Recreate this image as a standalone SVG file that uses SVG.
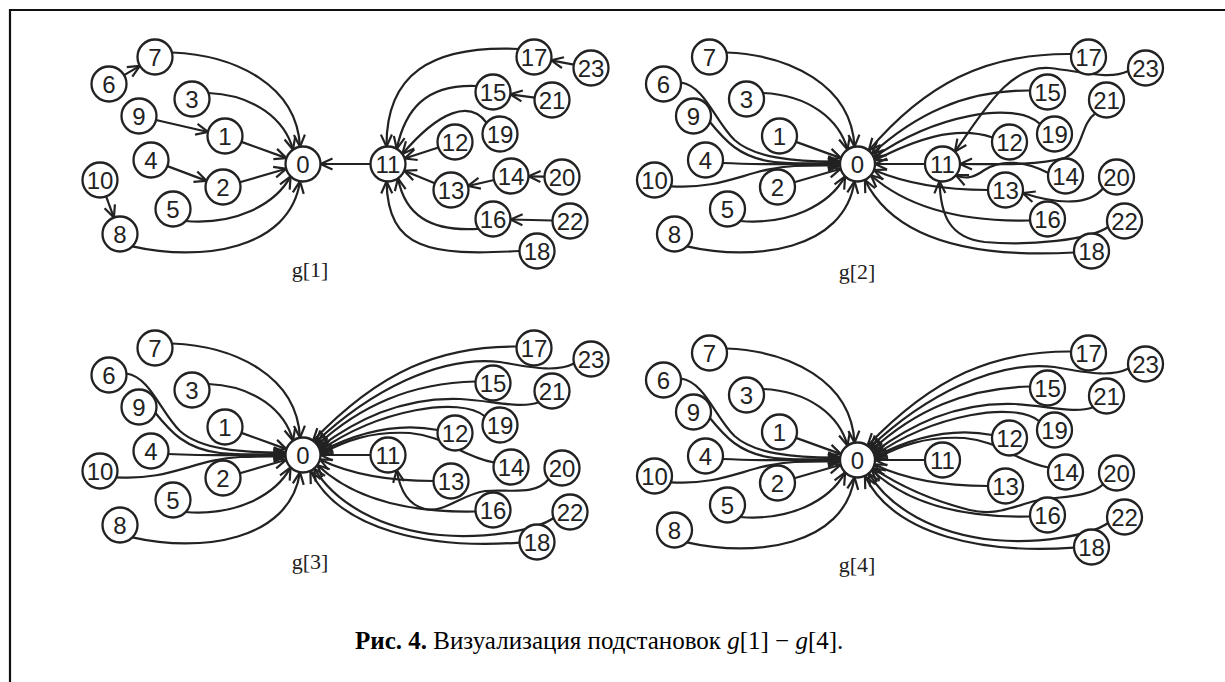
<svg xmlns="http://www.w3.org/2000/svg" width="1225" height="682" viewBox="0 0 1225 682">
<style>
  .node circle { fill: #fff; stroke: #222; stroke-width: 2.3; }
  .node text { font-family: "Liberation Sans", Arial, sans-serif; font-size: 24px; fill: #222; text-anchor: middle; }
  .edges path { fill: none; stroke: #222; stroke-width: 2.2; marker-end: url(#vee); }
  .lbl { font-family: "Liberation Serif", "Times New Roman", serif; font-size: 22px; fill: #222; text-anchor: middle; }
  .cap { font-family: "Liberation Serif", "Times New Roman", serif; font-size: 25px; fill: #000; }
</style>
<defs>
  <marker id="vee" viewBox="-14 -7 16 14" refX="0" refY="0" markerWidth="16" markerHeight="14" markerUnits="userSpaceOnUse" orient="auto">
    <path d="M-12,-5.5 L0,0 L-12,5.5" fill="none" stroke="#222" stroke-width="2.2"/>
  </marker>
</defs>
<rect width="1225" height="682" fill="#fff"/>
<!-- frame -->
<path d="M10,682 L10,10 L1225,10" fill="none" stroke="#111" stroke-width="2.2"/>

<!-- g[1] -->
<g id="panel1">
  <g id="p1-edges" class="edges">
    <path d="M124.1,75.1 L139.9,65.9"/>
    <path d="M172,52.5 C235,55 297,85 300,146.8"/>
    <path d="M208.4,93 C255,95 285,120 293,149.7"/>
    <path d="M156,120 L208,132"/>
    <path d="M241.5,141.9 L286.5,158.1"/>
    <path d="M167.4,166.1 L206.6,180.9"/>
    <path d="M239.8,182.2 L286.2,168.8"/>
    <path d="M185.5,221 C235,225 275,205 290.6,176.4"/>
    <path d="M106.1,196.4 L113.9,217.6"/>
    <path d="M132.4,246.4 C200,262 290,250 300,181.2"/>
    <path d="M370.5,164 L320.5,164"/>
    <path d="M518.4,49 C430,45 386,75 386.5,146.6"/>
    <path d="M573.8,64.7 L551.2,60.3"/>
    <path d="M476.6,86 C425,84 405,110 396.75,148.8"/>
    <path d="M534.7,97.7 L510.3,94.3"/>
    <path d="M486.6,122.8 C470,100 440,110 402.3,154"/>
    <path d="M438.4,147.5 L404.6,158.5"/>
    <path d="M434.8,183.3 L404.2,170.7"/>
    <path d="M494,180 L468,186"/>
    <path d="M544.5,176.7 L528.5,176.3"/>
    <path d="M478.5,228.8 C430,232 405,215 398,178.3"/>
    <path d="M552.5,220.5 L510.5,219.5"/>
    <path d="M519.5,251 C430,256 388,250 386.5,181.4"/>
  </g>
  <g id="p1-n0" class="node"><circle cx="303" cy="164" r="17.5"/><text x="303" y="172.6">0</text></g>
  <g id="p1-n1" class="node"><circle cx="225" cy="136" r="17.5"/><text x="225" y="144.6">1</text></g>
  <g id="p1-n2" class="node"><circle cx="223" cy="187" r="17.5"/><text x="223" y="195.6">2</text></g>
  <g id="p1-n3" class="node"><circle cx="192" cy="99" r="17.5"/><text x="192" y="107.6">3</text></g>
  <g id="p1-n4" class="node"><circle cx="151" cy="160" r="17.5"/><text x="151" y="168.6">4</text></g>
  <g id="p1-n5" class="node"><circle cx="173" cy="209" r="17.5"/><text x="173" y="217.6">5</text></g>
  <g id="p1-n6" class="node"><circle cx="109" cy="84" r="17.5"/><text x="109" y="92.6">6</text></g>
  <g id="p1-n7" class="node"><circle cx="155" cy="57" r="17.5"/><text x="155" y="65.6">7</text></g>
  <g id="p1-n8" class="node"><circle cx="120" cy="234" r="17.5"/><text x="120" y="242.6">8</text></g>
  <g id="p1-n9" class="node"><circle cx="139" cy="116" r="17.5"/><text x="139" y="124.6">9</text></g>
  <g id="p1-n10" class="node"><circle cx="100" cy="180" r="17.5"/><text x="100" y="188.6">10</text></g>
  <g id="p1-n11" class="node"><circle cx="388" cy="164" r="17.5"/><text x="388" y="172.6">11</text></g>
  <g id="p1-n12" class="node"><circle cx="455" cy="142" r="17.5"/><text x="455" y="150.6">12</text></g>
  <g id="p1-n13" class="node"><circle cx="451" cy="190" r="17.5"/><text x="451" y="198.6">13</text></g>
  <g id="p1-n14" class="node"><circle cx="511" cy="176" r="17.5"/><text x="511" y="184.6">14</text></g>
  <g id="p1-n15" class="node"><circle cx="493" cy="92" r="17.5"/><text x="493" y="100.6">15</text></g>
  <g id="p1-n16" class="node"><circle cx="493" cy="219" r="17.5"/><text x="493" y="227.6">16</text></g>
  <g id="p1-n17" class="node"><circle cx="534" cy="57" r="17.5"/><text x="534" y="65.6">17</text></g>
  <g id="p1-n18" class="node"><circle cx="537" cy="251" r="17.5"/><text x="537" y="259.6">18</text></g>
  <g id="p1-n19" class="node"><circle cx="500" cy="134" r="17.5"/><text x="500" y="142.6">19</text></g>
  <g id="p1-n20" class="node"><circle cx="562" cy="177" r="17.5"/><text x="562" y="185.6">20</text></g>
  <g id="p1-n21" class="node"><circle cx="552" cy="100" r="17.5"/><text x="552" y="108.6">21</text></g>
  <g id="p1-n22" class="node"><circle cx="570" cy="221" r="17.5"/><text x="570" y="229.6">22</text></g>
  <g id="p1-n23" class="node"><circle cx="591" cy="68" r="17.5"/><text x="591" y="76.6">23</text></g>
</g>

<!-- g[2] -->
<g id="panel2" transform="translate(554.5,0)">
  <g id="p2-edges" class="edges">
    <path d="M172,52.5 C235,55 297,85 300,146.8"/>
    <path d="M208.4,93 C255,95 285,120 293,149.7"/>
    <path d="M126.4,82.5 C150,86 160,120 180,140 C200,158 240,162 285.7,161.6"/>
    <path d="M155.4,122 C170,140 185,158 220,162 C245,164.5 265,163 285.5,162.8"/>
    <path d="M241.5,141.9 L286.5,158.1"/>
    <path d="M168.2,163 C210,165 250,164 285.5,164"/>
    <path d="M116.3,186.3 C170,190 195,168 240,166 C260,165.2 275,165.5 285.6,165.5"/>
    <path d="M239.8,182.2 L286.2,168.8"/>
    <path d="M185.5,221 C235,225 275,205 290.6,176.4"/>
    <path d="M132.4,246.4 C200,262 290,250 300,181.2"/>
    <path d="M370.5,164 L320.5,164"/>
    <path d="M516.8,54 C430,53 370,85 314.2,150.6"/>
    <path d="M573.8,71 C555,80 530,72 495,68 C455,65 430,110 400.4,151.6"/>
    <path d="M475.6,90.5 C410,90 360,115 317.3,154"/>
    <path d="M540.75,113.4 C525,125 530,150 510,158 C480,166 440,164 405.5,164"/>
    <path d="M485.7,124 C460,100 380,115 319.2,157.4"/>
    <path d="M438.1,137.5 C400,125 360,140 320.1,160.4"/>
    <path d="M493.8,173 C470,160 445,160 430,170 C420,177 412,180 401.4,175.2"/>
    <path d="M433.5,190 C390,190 350,183 319.4,170"/>
    <path d="M548.6,188.2 C535,205 505,205 468.2,193"/>
    <path d="M475.6,220.5 C400,222 350,205 316.4,175.2"/>
    <path d="M553.6,227 C535,240 475,246 430,242 C395,238 386,215 385,181.2"/>
    <path d="M519.6,252.5 C420,258 340,240 310.4,179.9"/>
  </g>
  <g id="p2-n0" class="node"><circle cx="303" cy="164" r="17.5"/><text x="303" y="172.6">0</text></g>
  <g id="p2-n1" class="node"><circle cx="225" cy="136" r="17.5"/><text x="225" y="144.6">1</text></g>
  <g id="p2-n2" class="node"><circle cx="223" cy="187" r="17.5"/><text x="223" y="195.6">2</text></g>
  <g id="p2-n3" class="node"><circle cx="192" cy="99" r="17.5"/><text x="192" y="107.6">3</text></g>
  <g id="p2-n4" class="node"><circle cx="151" cy="160" r="17.5"/><text x="151" y="168.6">4</text></g>
  <g id="p2-n5" class="node"><circle cx="173" cy="209" r="17.5"/><text x="173" y="217.6">5</text></g>
  <g id="p2-n6" class="node"><circle cx="109" cy="84" r="17.5"/><text x="109" y="92.6">6</text></g>
  <g id="p2-n7" class="node"><circle cx="155" cy="57" r="17.5"/><text x="155" y="65.6">7</text></g>
  <g id="p2-n8" class="node"><circle cx="120" cy="234" r="17.5"/><text x="120" y="242.6">8</text></g>
  <g id="p2-n9" class="node"><circle cx="139" cy="116" r="17.5"/><text x="139" y="124.6">9</text></g>
  <g id="p2-n10" class="node"><circle cx="100" cy="180" r="17.5"/><text x="100" y="188.6">10</text></g>
  <g id="p2-n11" class="node"><circle cx="388" cy="164" r="17.5"/><text x="388" y="172.6">11</text></g>
  <g id="p2-n12" class="node"><circle cx="455" cy="142" r="17.5"/><text x="455" y="150.6">12</text></g>
  <g id="p2-n13" class="node"><circle cx="451" cy="190" r="17.5"/><text x="451" y="198.6">13</text></g>
  <g id="p2-n14" class="node"><circle cx="511" cy="176" r="17.5"/><text x="511" y="184.6">14</text></g>
  <g id="p2-n15" class="node"><circle cx="493" cy="92" r="17.5"/><text x="493" y="100.6">15</text></g>
  <g id="p2-n16" class="node"><circle cx="493" cy="219" r="17.5"/><text x="493" y="227.6">16</text></g>
  <g id="p2-n17" class="node"><circle cx="534" cy="57" r="17.5"/><text x="534" y="65.6">17</text></g>
  <g id="p2-n18" class="node"><circle cx="537" cy="251" r="17.5"/><text x="537" y="259.6">18</text></g>
  <g id="p2-n19" class="node"><circle cx="500" cy="134" r="17.5"/><text x="500" y="142.6">19</text></g>
  <g id="p2-n20" class="node"><circle cx="562" cy="177" r="17.5"/><text x="562" y="185.6">20</text></g>
  <g id="p2-n21" class="node"><circle cx="552" cy="100" r="17.5"/><text x="552" y="108.6">21</text></g>
  <g id="p2-n22" class="node"><circle cx="570" cy="221" r="17.5"/><text x="570" y="229.6">22</text></g>
  <g id="p2-n23" class="node"><circle cx="591" cy="68" r="17.5"/><text x="591" y="76.6">23</text></g>
</g>

<!-- g[3] -->
<g id="panel3" transform="translate(0,291)">
  <g id="p3-edges" class="edges">
    <path d="M172,52.5 C235,55 297,85 300,146.8"/>
    <path d="M208.4,93 C255,95 285,120 293,149.7"/>
    <path d="M126.4,82.5 C150,86 160,120 180,140 C200,158 240,162 285.7,161.6"/>
    <path d="M155.4,122 C170,140 185,158 220,162 C245,164.5 265,163 285.5,162.8"/>
    <path d="M241.5,141.9 L286.5,158.1"/>
    <path d="M168.2,163 C210,165 250,164 285.5,164"/>
    <path d="M116.3,186.3 C170,190 195,168 240,166 C260,165.2 275,165.5 285.6,165.5"/>
    <path d="M239.8,182.2 L286.2,168.8"/>
    <path d="M185.5,221 C235,225 275,205 290.6,176.4"/>
    <path d="M132.4,246.4 C200,262 290,250 300,181.2"/>
    <path d="M370.5,164 L320.5,164"/>
    <path d="M516.6,55.5 C440,55 380,80 313,149.7"/>
    <path d="M574.1,72.5 C555,82 530,76 500,71 C440,64 370,100 315.4,151.6"/>
    <path d="M475.6,90.5 C410,92 360,115 317.3,154"/>
    <path d="M538.6,111.2 C520,118 495,110 460,108 C400,106 355,130 318.9,156.6"/>
    <path d="M484.8,125.25 C460,105 380,118 319.9,159.5"/>
    <path d="M437.8,139 C400,132 360,140 320.2,161"/>
    <path d="M494.1,171.5 C460,165 445,145 410,142 C370,140 345,150 320.5,162.8"/>
    <path d="M433.5,190 C390,190 350,183 319.9,168.5"/>
    <path d="M548.6,188.2 C535,205 510,198 485,200 C460,204 445,222 425,218 C408,214 400,200 396.75,179.2"/>
    <path d="M475.6,220.5 C400,222 350,205 317.3,174"/>
    <path d="M553.6,227 C535,240 482,248 440,244 C380,238 335,212 314.2,177.4"/>
    <path d="M519.5,251.6 C430,258 340,240 310.4,179.9"/>
  </g>
  <g id="p3-n0" class="node"><circle cx="303" cy="164" r="17.5"/><text x="303" y="172.6">0</text></g>
  <g id="p3-n1" class="node"><circle cx="225" cy="136" r="17.5"/><text x="225" y="144.6">1</text></g>
  <g id="p3-n2" class="node"><circle cx="223" cy="187" r="17.5"/><text x="223" y="195.6">2</text></g>
  <g id="p3-n3" class="node"><circle cx="192" cy="99" r="17.5"/><text x="192" y="107.6">3</text></g>
  <g id="p3-n4" class="node"><circle cx="151" cy="160" r="17.5"/><text x="151" y="168.6">4</text></g>
  <g id="p3-n5" class="node"><circle cx="173" cy="209" r="17.5"/><text x="173" y="217.6">5</text></g>
  <g id="p3-n6" class="node"><circle cx="109" cy="84" r="17.5"/><text x="109" y="92.6">6</text></g>
  <g id="p3-n7" class="node"><circle cx="155" cy="57" r="17.5"/><text x="155" y="65.6">7</text></g>
  <g id="p3-n8" class="node"><circle cx="120" cy="234" r="17.5"/><text x="120" y="242.6">8</text></g>
  <g id="p3-n9" class="node"><circle cx="139" cy="116" r="17.5"/><text x="139" y="124.6">9</text></g>
  <g id="p3-n10" class="node"><circle cx="100" cy="180" r="17.5"/><text x="100" y="188.6">10</text></g>
  <g id="p3-n11" class="node"><circle cx="388" cy="164" r="17.5"/><text x="388" y="172.6">11</text></g>
  <g id="p3-n12" class="node"><circle cx="455" cy="142" r="17.5"/><text x="455" y="150.6">12</text></g>
  <g id="p3-n13" class="node"><circle cx="451" cy="190" r="17.5"/><text x="451" y="198.6">13</text></g>
  <g id="p3-n14" class="node"><circle cx="511" cy="176" r="17.5"/><text x="511" y="184.6">14</text></g>
  <g id="p3-n15" class="node"><circle cx="493" cy="92" r="17.5"/><text x="493" y="100.6">15</text></g>
  <g id="p3-n16" class="node"><circle cx="493" cy="219" r="17.5"/><text x="493" y="227.6">16</text></g>
  <g id="p3-n17" class="node"><circle cx="534" cy="57" r="17.5"/><text x="534" y="65.6">17</text></g>
  <g id="p3-n18" class="node"><circle cx="537" cy="251" r="17.5"/><text x="537" y="259.6">18</text></g>
  <g id="p3-n19" class="node"><circle cx="500" cy="134" r="17.5"/><text x="500" y="142.6">19</text></g>
  <g id="p3-n20" class="node"><circle cx="562" cy="177" r="17.5"/><text x="562" y="185.6">20</text></g>
  <g id="p3-n21" class="node"><circle cx="552" cy="100" r="17.5"/><text x="552" y="108.6">21</text></g>
  <g id="p3-n22" class="node"><circle cx="570" cy="221" r="17.5"/><text x="570" y="229.6">22</text></g>
  <g id="p3-n23" class="node"><circle cx="591" cy="68" r="17.5"/><text x="591" y="76.6">23</text></g>
</g>

<!-- g[4] -->
<g id="panel4" transform="translate(554.5,296)">
  <g id="p4-edges" class="edges">
    <path d="M172,52.5 C235,55 297,85 300,146.8"/>
    <path d="M208.4,93 C255,95 285,120 293,149.7"/>
    <path d="M126.4,82.5 C150,86 160,120 180,140 C200,158 240,162 285.7,161.6"/>
    <path d="M155.4,122 C170,140 185,158 220,162 C245,164.5 265,163 285.5,162.8"/>
    <path d="M241.5,141.9 L286.5,158.1"/>
    <path d="M168.2,163 C210,165 250,164 285.5,164"/>
    <path d="M116.3,186.3 C170,190 195,168 240,166 C260,165.2 275,165.5 285.6,165.5"/>
    <path d="M239.8,182.2 L286.2,168.8"/>
    <path d="M185.5,221 C235,225 275,205 290.6,176.4"/>
    <path d="M132.4,246.4 C200,262 290,250 300,181.2"/>
    <path d="M370.5,164 L320.5,164"/>
    <path d="M516.6,55.5 C440,55 380,80 313,149.7"/>
    <path d="M574.1,72.5 C555,82 530,76 500,71 C440,64 370,100 315.4,151.6"/>
    <path d="M475.6,90.5 C410,92 360,115 317.3,154"/>
    <path d="M538.6,111.2 C520,118 495,110 460,108 C400,106 355,130 318.9,156.6"/>
    <path d="M484.8,125.25 C460,105 380,118 319.9,159.5"/>
    <path d="M437.8,139 C400,132 360,140 320.2,161"/>
    <path d="M494.1,171.5 C460,165 445,145 410,142 C370,140 345,150 320.5,162.8"/>
    <path d="M433.5,190 C390,190 350,183 319.9,168.5"/>
    <path d="M548.6,188.2 C535,202 505,200 480,205 C455,212 440,220 415,214 C375,204 345,190 318.5,172.2"/>
    <path d="M475.6,220.5 C400,222 350,205 317.3,174"/>
    <path d="M553.6,227 C535,240 482,248 440,244 C380,238 335,212 314.2,177.4"/>
    <path d="M519.5,251.6 C430,258 340,240 310.4,179.9"/>
  </g>
  <g id="p4-n0" class="node"><circle cx="303" cy="164" r="17.5"/><text x="303" y="172.6">0</text></g>
  <g id="p4-n1" class="node"><circle cx="225" cy="136" r="17.5"/><text x="225" y="144.6">1</text></g>
  <g id="p4-n2" class="node"><circle cx="223" cy="187" r="17.5"/><text x="223" y="195.6">2</text></g>
  <g id="p4-n3" class="node"><circle cx="192" cy="99" r="17.5"/><text x="192" y="107.6">3</text></g>
  <g id="p4-n4" class="node"><circle cx="151" cy="160" r="17.5"/><text x="151" y="168.6">4</text></g>
  <g id="p4-n5" class="node"><circle cx="173" cy="209" r="17.5"/><text x="173" y="217.6">5</text></g>
  <g id="p4-n6" class="node"><circle cx="109" cy="84" r="17.5"/><text x="109" y="92.6">6</text></g>
  <g id="p4-n7" class="node"><circle cx="155" cy="57" r="17.5"/><text x="155" y="65.6">7</text></g>
  <g id="p4-n8" class="node"><circle cx="120" cy="234" r="17.5"/><text x="120" y="242.6">8</text></g>
  <g id="p4-n9" class="node"><circle cx="139" cy="116" r="17.5"/><text x="139" y="124.6">9</text></g>
  <g id="p4-n10" class="node"><circle cx="100" cy="180" r="17.5"/><text x="100" y="188.6">10</text></g>
  <g id="p4-n11" class="node"><circle cx="388" cy="164" r="17.5"/><text x="388" y="172.6">11</text></g>
  <g id="p4-n12" class="node"><circle cx="455" cy="142" r="17.5"/><text x="455" y="150.6">12</text></g>
  <g id="p4-n13" class="node"><circle cx="451" cy="190" r="17.5"/><text x="451" y="198.6">13</text></g>
  <g id="p4-n14" class="node"><circle cx="511" cy="176" r="17.5"/><text x="511" y="184.6">14</text></g>
  <g id="p4-n15" class="node"><circle cx="493" cy="92" r="17.5"/><text x="493" y="100.6">15</text></g>
  <g id="p4-n16" class="node"><circle cx="493" cy="219" r="17.5"/><text x="493" y="227.6">16</text></g>
  <g id="p4-n17" class="node"><circle cx="534" cy="57" r="17.5"/><text x="534" y="65.6">17</text></g>
  <g id="p4-n18" class="node"><circle cx="537" cy="251" r="17.5"/><text x="537" y="259.6">18</text></g>
  <g id="p4-n19" class="node"><circle cx="500" cy="134" r="17.5"/><text x="500" y="142.6">19</text></g>
  <g id="p4-n20" class="node"><circle cx="562" cy="177" r="17.5"/><text x="562" y="185.6">20</text></g>
  <g id="p4-n21" class="node"><circle cx="552" cy="100" r="17.5"/><text x="552" y="108.6">21</text></g>
  <g id="p4-n22" class="node"><circle cx="570" cy="221" r="17.5"/><text x="570" y="229.6">22</text></g>
  <g id="p4-n23" class="node"><circle cx="591" cy="68" r="17.5"/><text x="591" y="76.6">23</text></g>
</g>

<!-- panel titles -->
<text class="lbl" x="310" y="277">g[1]</text>
<text class="lbl" x="857" y="279">g[2]</text>
<text class="lbl" x="310" y="569">g[3]</text>
<text class="lbl" x="857" y="572">g[4]</text>

<!-- caption -->
<text class="cap" x="355" y="649"><tspan font-weight="bold">Рис. 4.</tspan> Визуализация подстановок <tspan font-style="italic">g</tspan>[1] − <tspan font-style="italic">g</tspan>[4].</text>
</svg>
